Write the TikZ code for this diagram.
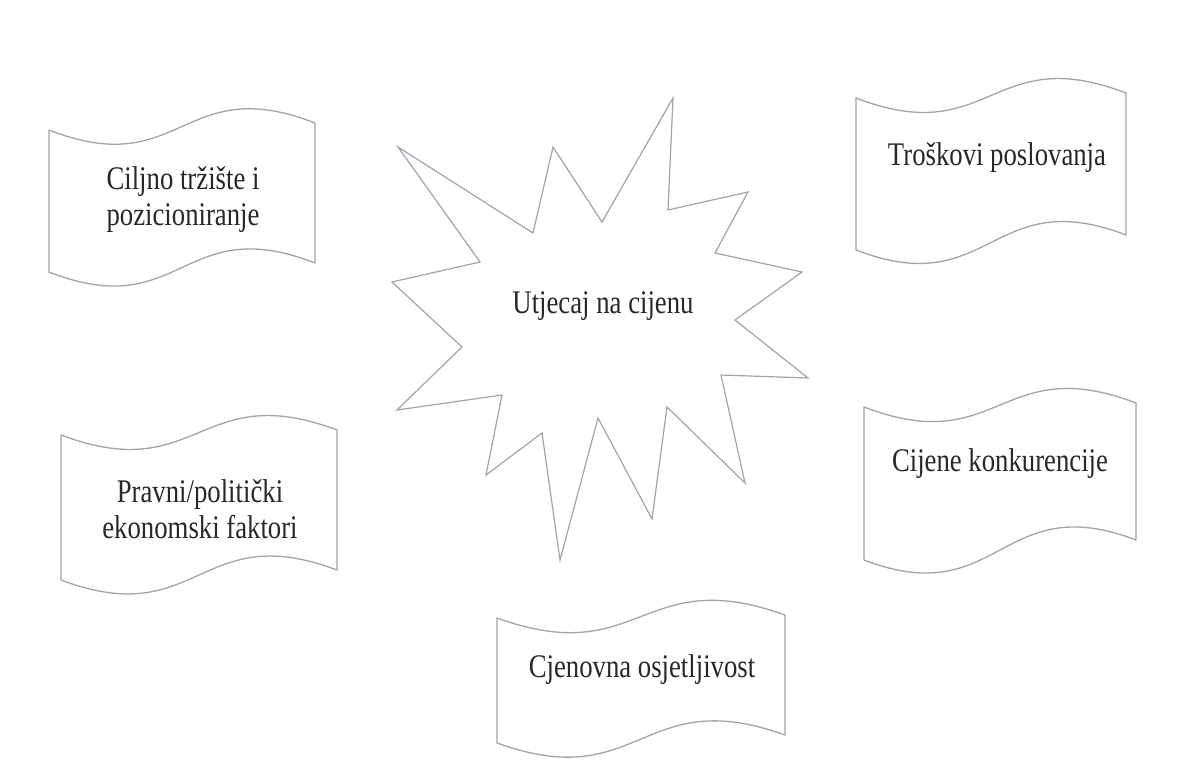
\documentclass[tikz,border=0pt]{standalone}
\usepackage{fontspec}
\setmainfont{Liberation Serif}[FakeStretch=0.81]
\definecolor{linegray}{RGB}{158,164,176}
\definecolor{textgray}{RGB}{40,40,44}
\begin{document}
\begin{tikzpicture}[x=1pt,y=-1pt]
      \tikzstyle{banner}=[draw=linegray,line width=1.3pt,line join=round]
      \tikzstyle{burst}=[draw=linegray,line width=1.2pt,line join=miter]
      \tikzstyle{word}=[text=textgray,align=center,inner sep=0pt,font=\fontsize{33}{36}\selectfont]
      \useasboundingbox[fill=white] (0,0) rectangle (1183,782);
      % the starburst
      \path[burst] (398,147) -- (533,233) -- (553,147) -- (602,222) -- (673,98)
        -- (668,210) -- (748,192) -- (715,253) -- (802,272) -- (735,320)
        -- (808,378) -- (721,375) -- (745,483) -- (667,407) -- (652,519)
        -- (598,418) -- (560,560) -- (542,433) -- (486,475) -- (502,395)
        -- (397,410) -- (462,347) -- (392,282) -- (480,262) -- cycle;
      \node[word,anchor=base] (price) at (603,313) {Utjecaj na cijenu};
      % the five banners
      \path[banner] (49,130) .. controls (182,182) and (182,71) .. (315,123)
        -- (315,263) .. controls (182,211) and (182,324) .. (49,272) -- cycle;
      \node[word] (market) at (183,200) {Ciljno tržište i\\pozicioniranje};
      \path[banner] (856,98) .. controls (991,150) and (991,41) .. (1126,93)
        -- (1126,235) .. controls (991,183) and (991,302) .. (856,250) -- cycle;
      \node[word,anchor=base] (costs) at (997,165) {Troškovi poslovanja};
      \path[banner] (61,435) .. controls (199,487) and (199,378) .. (337,430)
        -- (337,570) .. controls (199,518) and (199,632) .. (61,580) -- cycle;
      \node[word] (legal) at (200,509) {Pravni/politički\\ekonomski faktori};
      \path[banner] (864,407) .. controls (1000,459) and (1000,351) .. (1136,403)
        -- (1136,540) .. controls (1000,488) and (1000,612) .. (864,560) -- cycle;
      \node[word,anchor=base] (rivals) at (1000,471) {Cijene konkurencije};
      \path[banner] (497,618) .. controls (641,670) and (641,563) .. (785,615)
        -- (785,735) .. controls (641,683) and (641,795) .. (497,743) -- cycle;
      \node[word,anchor=base] (demand) at (642,677) {Cjenovna osjetljivost};
    \end{tikzpicture}
\end{document}
